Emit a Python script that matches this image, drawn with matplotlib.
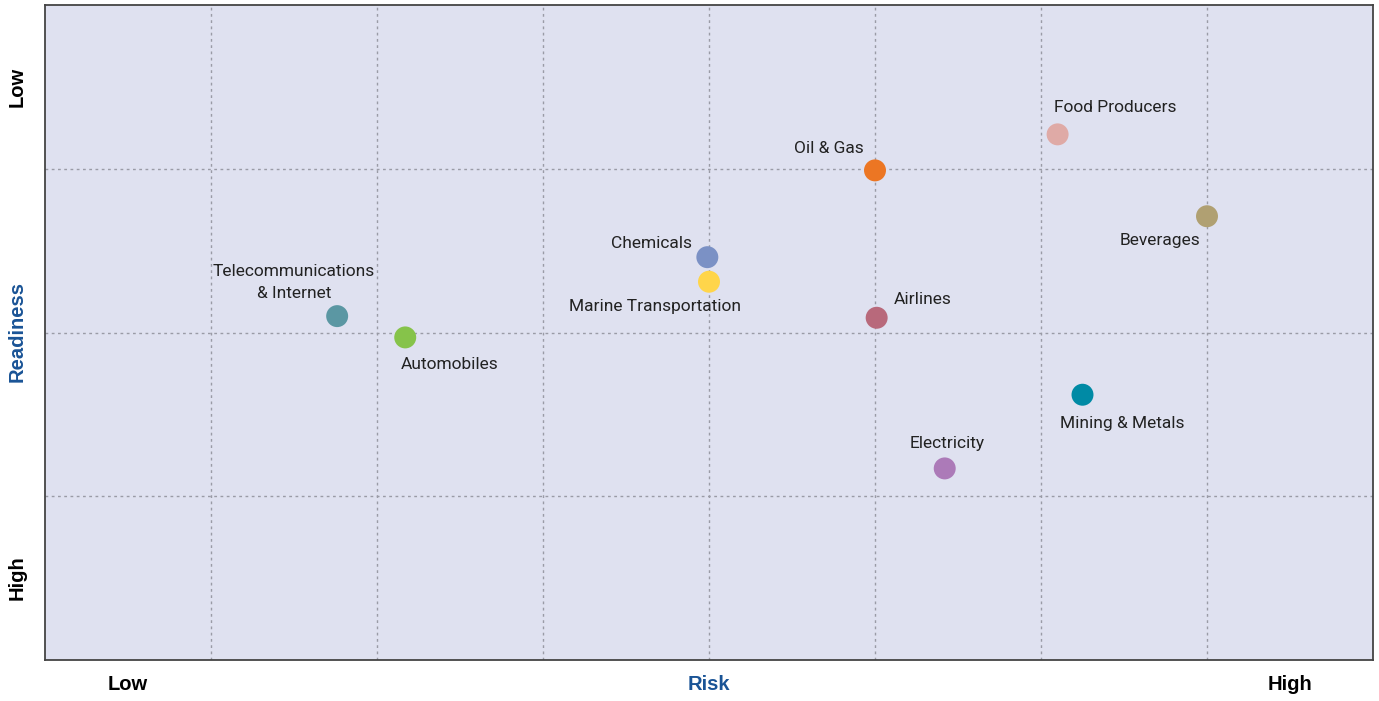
import matplotlib.pyplot as plt

# Sector positions on the risk / readiness grid
sectors = ["Telecommunications\n& Internet", "Automobiles", "Chemicals",
           "Marine Transportation", "Oil & Gas", "Food Producers", "Beverages",
           "Airlines", "Mining & Metals", "Electricity"]
risk = [1.76, 2.17, 3.99, 4.0, 5.0, 6.10, 7.0, 5.01, 6.25, 5.42]
readiness = [2.10, 1.97, 2.46, 2.31, 2.99, 3.21, 2.71, 2.09, 1.62, 1.17]
colors = ["#5b97a3", "#86c34a", "#7b91c5", "#ffd54a", "#ec7623", "#dfaaa6",
          "#b0a072", "#b8697b", "#008aa5", "#ac7ab8"]

# label offsets (pixels) and alignment
offsets = [(-43, 15), (-4, -27), (-15, 14), (-54, -25), (-11, 22), (-4, 27),
           (-7, -24), (17, 18), (40, -29), (2, 25)]
aligns = [("center", "bottom"), ("left", "center"), ("right", "center"),
          ("center", "center"), ("right", "center"), ("left", "center"),
          ("right", "center"), ("left", "center"), ("center", "center"),
          ("center", "center")]

fig = plt.figure(figsize=(13.79, 7.01), dpi=100)
ax = fig.add_axes([45 / 1379, 41 / 701, 1328 / 1379, 655 / 701])
ax.set_facecolor("#dfe1f0")
ax.set_xlim(0, 8)
ax.set_ylim(0, 4)
ax.set_xticks(range(1, 8))
ax.set_yticks(range(1, 4))
ax.tick_params(length=0, labelbottom=False, labelleft=False)
ax.grid(True, color="#9a9ba6", linestyle=(0, (2, 2.5)), linewidth=1)
for s in ax.spines.values():
    s.set_color("#444444")
    s.set_linewidth(1.3)

ax.scatter(risk, readiness, s=250, c=colors, zorder=3, linewidths=0)

for name, x, y, off, (ha, va) in zip(sectors, risk, readiness, offsets, aligns):
    ax.annotate(name, (x, y), xytext=off, textcoords="offset pixels",
                ha=ha, va=va, fontsize=12.5, color="#222222",
                family="Roboto", linespacing=1.6, zorder=4)

blue = "#1a5496"
bold = dict(fontsize=14.5, fontweight="bold", family="Liberation Sans")
fig.text(128 / 1379, 1 - 685 / 701, "Low", ha="center", va="center", **bold)
fig.text(709 / 1379, 1 - 685 / 701, "Risk", ha="center", va="center",
         color=blue, **bold)
fig.text(1290 / 1379, 1 - 685 / 701, "High", ha="center", va="center", **bold)
fig.text(17 / 1379, 1 - 87 / 701, "Low", ha="center", va="center",
         rotation=90, **bold)
fig.text(17 / 1379, 1 - 332 / 701, "Readiness", ha="center", va="center",
         rotation=90, color=blue, **bold)
fig.text(17 / 1379, 1 - 578 / 701, "High", ha="center", va="center",
         rotation=90, **bold)

fig.savefig("out.png", dpi=100)
